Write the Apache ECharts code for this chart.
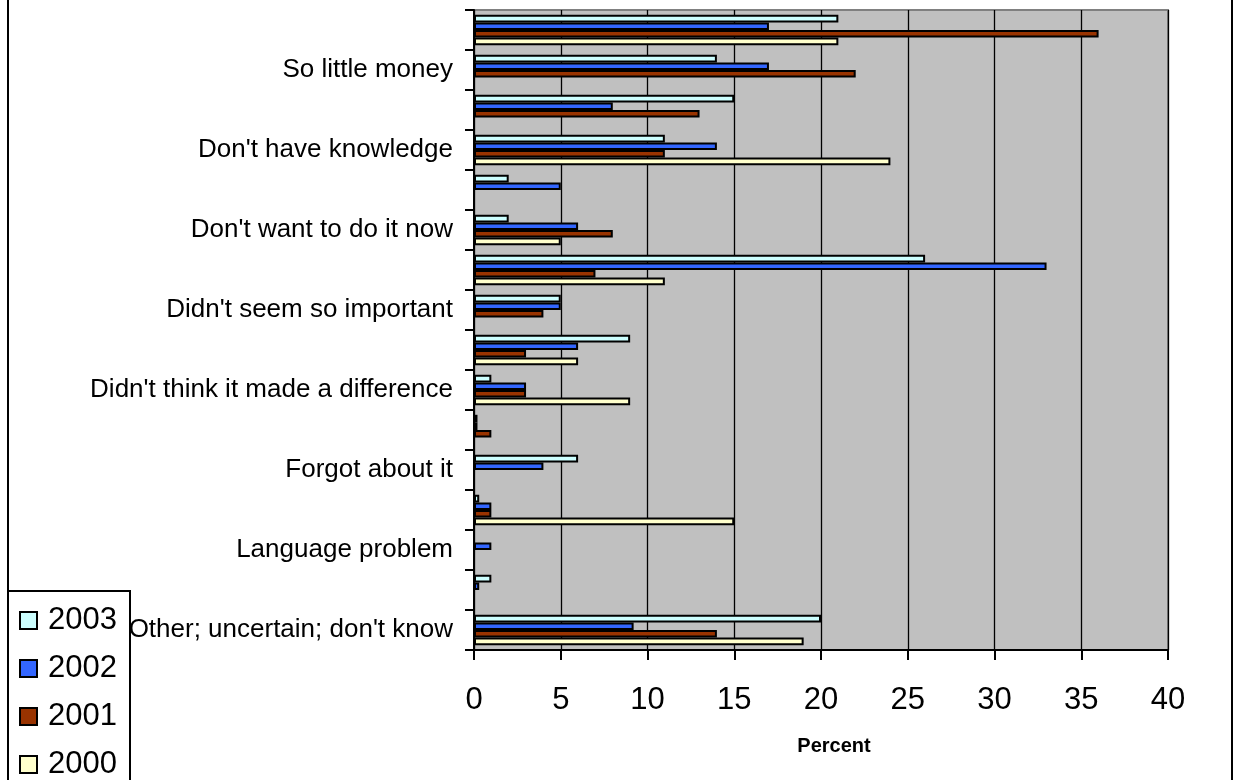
<!DOCTYPE html>
<html>
<head>
<meta charset="utf-8">
<script src="https://cdn.jsdelivr.net/npm/echarts@6/dist/echarts.min.js"></script>
<style>
  html, body { margin: 0; padding: 0; background: #fff; }
  #chart { width: 1235px; height: 780px; }
</style>
</head>
<body>
<div id="chart"></div>
<script>
// Reasons for not doing it, by survey year (percent). Listed top to bottom;
// unlabeled rows sit between the named ones.
const categories = [
  '', 'So little money',
  '', "Don't have knowledge",
  '', "Don't want to do it now",
  '', "Didn't seem so important",
  '', "Didn't think it made a difference",
  '', 'Forgot about it',
  '', 'Language problem',
  '', "Other; uncertain; don't know"
];
const years = ['2003', '2002', '2001', '2000'];
const v2003 = [21, 14, 15, 11, 2, 2, 26, 5, 9, 1, 0.2, 6, 0.3, '-', 1, 20];
const v2002 = [17, 17, 8, 14, 5, 6, 33, 5, 6, 3, 0.2, 4, 1, 1, 0.3, 9.2];
const v2001 = [36, 22, 13, 11, '-', 8, 7, 4, 3, 3, 1, '-', 1, '-', '-', 14];
const v2000 = [21, '-', '-', 24, '-', 5, 11, '-', 6, 9, '-', '-', 15, '-', '-', 19];
const xTicks = { min: 0, max: 40, step: 5 };

const colors = ['#CCFFFF', '#3366FF', '#993300', '#FFFFCC'];
const values = [v2003, v2002, v2001, v2000];
const font = "'Liberation Sans', Arial, sans-serif";

const chart = echarts.init(document.getElementById('chart'), null, { renderer: 'canvas' });

chart.setOption({
  animation: false,
  textStyle: { fontFamily: font, color: '#000' },
  grid: {
    left: 474, top: 10, right: 67, bottom: 130,
    show: true, backgroundColor: '#C0C0C0',
    borderColor: '#808080', borderWidth: 2
  },
  legend: {
    orient: 'vertical',
    left: 14, top: 600, height: 300,
    itemWidth: 17, itemHeight: 17, itemGap: 17,
    icon: 'rect',
    data: years,
    textStyle: { fontFamily: font, fontSize: 31, color: '#000', padding: [0, 0, 0, 6] }
  },
  xAxis: {
    type: 'value',
    min: xTicks.min, max: xTicks.max, interval: xTicks.step,
    name: 'Percent',
    nameLocation: 'middle',
    nameGap: 86,
    nameMoveOverlap: false,
    nameTextStyle: { fontFamily: font, fontSize: 20, fontWeight: 'bold', color: '#000', padding: [0, 0, 0, 26] },
    axisLine: { show: true, lineStyle: { color: '#000', width: 2 } },
    axisTick: { show: true, length: 10, lineStyle: { color: '#000', width: 2 } },
    axisLabel: { fontFamily: font, fontSize: 31, color: '#000', margin: 35 },
    splitLine: { show: true, lineStyle: { color: '#000', width: 1.3 } }
  },
  yAxis: {
    type: 'category',
    data: categories,
    inverse: true,
    axisLine: { show: true, lineStyle: { color: '#000', width: 2 } },
    axisTick: { show: true, length: 9, interval: 0, lineStyle: { color: '#000', width: 2 } },
    axisLabel: { interval: 0, fontFamily: font, fontSize: 26, color: '#000', margin: 21 },
    splitLine: { show: false }
  },
  series: years.map((y, i) => ({
    name: y,
    type: 'bar',
    data: values[i],
    barGap: '0%',
    barCategoryGap: '24%',
    itemStyle: { color: colors[i], borderColor: '#000', borderWidth: 2 }
  })),
  graphic: [
    {
      type: 'rect',
      shape: { x: 8, y: -10, width: 1224, height: 800 },
      style: { fill: 'none', stroke: '#000', lineWidth: 2 },
      silent: true
    },
    {
      type: 'rect',
      shape: { x: 8, y: 591, width: 122, height: 200 },
      style: { fill: 'none', stroke: '#000', lineWidth: 2 },
      silent: true
    }
  ]
});
</script>
</body>
</html>
